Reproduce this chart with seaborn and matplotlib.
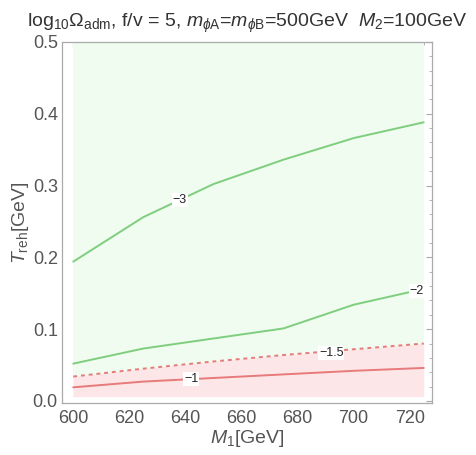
import numpy as np
import pandas as pd
import matplotlib
matplotlib.use("Agg")
import matplotlib.pyplot as plt
from matplotlib.ticker import MultipleLocator
import seaborn as sns

# contour levels of log10(Omega_adm)
m1 = [600, 625, 650, 675, 700, 725]
c_m3 = [0.194, 0.256, 0.302, 0.336, 0.366, 0.388]
c_m2 = [0.052, 0.073, 0.087, 0.101, 0.134, 0.156]
c_m15 = [0.034, 0.045, 0.055, 0.064, 0.072, 0.080]
c_m1 = [0.019, 0.027, 0.032, 0.037, 0.042, 0.046]
levels = ["-3", "-2", "-1.5", "-1"]
label_pos = [(638, 0.280), (722.5, 0.153), (692, 0.067), (642, 0.030)]

sns.set_style("white")
plt.rcParams["font.family"] = ["Liberation Sans", "DejaVu Sans"]
plt.rcParams["mathtext.fontset"] = "custom"
plt.rcParams["mathtext.rm"] = "Liberation Sans"
plt.rcParams["mathtext.it"] = "Liberation Sans:italic"

green = "#7fce7f"
red = "#e77a7a"

fig = plt.figure(figsize=(4.77, 4.55), dpi=100)
ax = fig.add_axes([0.130, 0.114, 0.776, 0.794])

x_lo, x_hi = m1[0], m1[-1]
ax.fill_between([x_lo, x_hi], [0.5, 0.5], [0.006, 0.006], color="#effcef", lw=0)
ax.fill_between(m1, c_m15, 0.006, color="#fde6e8", lw=0)

df = pd.DataFrame({"M1": m1 * 4,
                   "T": c_m3 + c_m2 + c_m15 + c_m1,
                   "level": sum([[lv] * len(m1) for lv in levels], [])})
sns.lineplot(data=df[df.level == "-3"], x="M1", y="T", color=green, lw=1.4, ax=ax)
sns.lineplot(data=df[df.level == "-2"], x="M1", y="T", color=green, lw=1.4, ax=ax)
sns.lineplot(data=df[df.level == "-1.5"], x="M1", y="T", color=red, lw=1.4, ax=ax,
             linestyle=(0, (2, 2)))
sns.lineplot(data=df[df.level == "-1"], x="M1", y="T", color=red, lw=1.4, ax=ax)

for lv, (lx, ly) in zip(levels, label_pos):
    ax.text(lx, ly, "\u2212" + lv[1:], fontsize=9, ha="center", va="center",
            color="#222222",
            bbox=dict(boxstyle="square,pad=0.08", fc="white", ec="none"))

ax.set_xlim(596, 728)
ax.set_ylim(-0.003, 0.5)
ax.set_xticks([600, 620, 640, 660, 680, 700, 720])
ax.set_yticks([0.0, 0.1, 0.2, 0.3, 0.4, 0.5])
ax.set_yticklabels(["0.0", "0.1", "0.2", "0.3", "0.4", "0.5"])
ax.xaxis.set_minor_locator(MultipleLocator(5))
ax.yaxis.set_minor_locator(MultipleLocator(0.02))
ax.tick_params(which="both", direction="in", top=True, right=True,
               colors="#aaaaaa", labelcolor="#555555", labelsize=13)
ax.tick_params(which="major", length=4, width=0.8)
ax.tick_params(which="minor", length=2, width=0.6)
ax.tick_params(axis="x", pad=5)
ax.tick_params(axis="y", pad=3)
for s in ax.spines.values():
    s.set_color("#aaaaaa")
    s.set_linewidth(0.9)

ax.set_xlabel("$M_1$[GeV]", fontsize=14, color="#555555", labelpad=1)
ax.set_ylabel(r"$T_{\rm reh}$[GeV]", fontsize=14, color="#555555", labelpad=1)
ax.set_title(r"log$_{10}\Omega_{\rm adm}$, f/v = 5, $m_{\phi\rm A}$=$m_{\phi\rm B}$=500GeV  $M_2$=100GeV",
             fontsize=14, color="#333333", pad=11)

fig.savefig("out.png", dpi=100)
